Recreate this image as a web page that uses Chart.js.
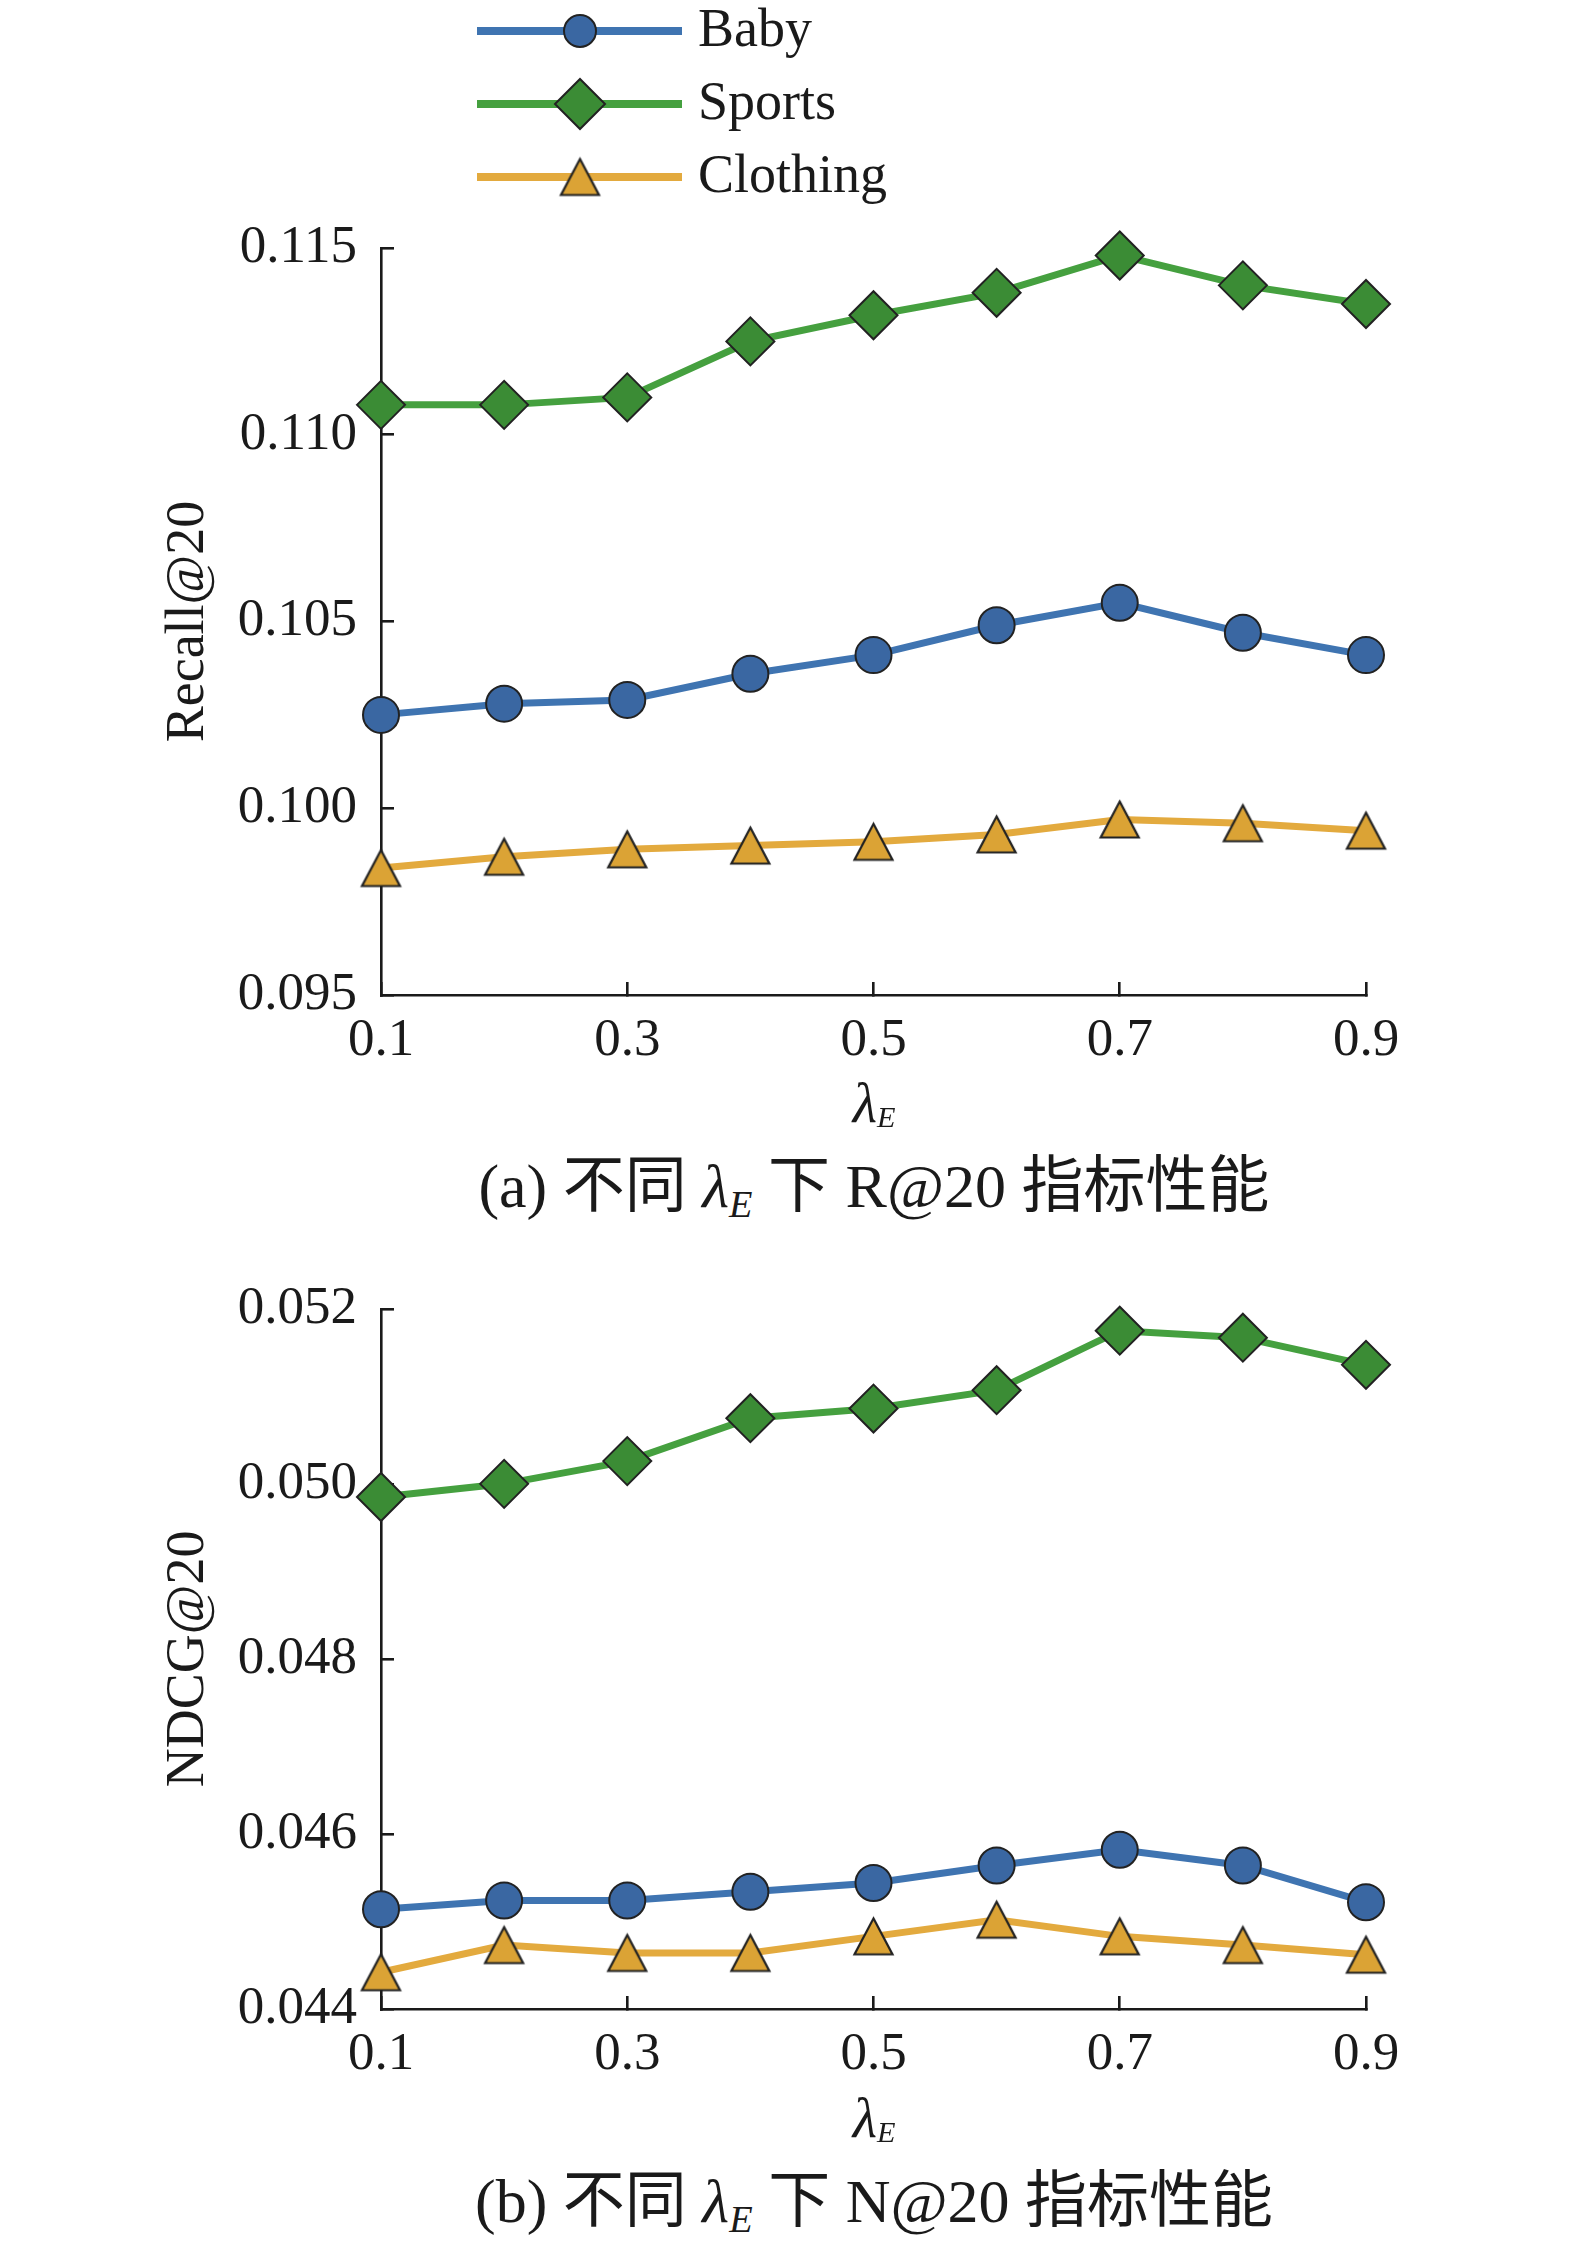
<!DOCTYPE html>
<html>
<head>
<meta charset="utf-8">
<script src="https://cdn.jsdelivr.net/npm/chart.js@4.4.1/dist/chart.umd.min.js"></script>
<style>
html,body{margin:0;padding:0;background:#fff;}
#wrap{position:relative;width:1575px;height:2251px;overflow:hidden;background:#fff;}
canvas{position:absolute;left:0;}
.t{position:absolute;left:0;width:1748px;text-align:center;white-space:nowrap;color:#1a1a1a;
   font-family:"Liberation Serif","Times New Roman","Noto Sans CJK SC",serif;}
.lam{font-style:italic;}
.subA{font-style:italic;font-size:0.54em;position:relative;top:0.18em;line-height:0;}
.subC{font-style:italic;font-size:0.62em;position:relative;top:0.25em;line-height:0;}
</style>
</head>
<body>
<div id="wrap">
  <canvas id="c1" width="1575" height="1080" style="top:0px;width:1575px;height:1080px"></canvas>
  <canvas id="c2" width="1575" height="850" style="top:1240px;width:1575px;height:850px"></canvas>
  <div class="t" style="top:1075px;font-size:56px;line-height:56px"><span class="lam">λ</span><span class="subA">E</span></div>
  <div class="t" style="top:1155px;font-size:62px;line-height:62px">(a) 不同 <span class="lam">λ</span><span class="subC">E</span> 下 R@20 指标性能</div>
  <div class="t" style="top:2090px;font-size:56px;line-height:56px"><span class="lam">λ</span><span class="subA">E</span></div>
  <div class="t" style="top:2170px;font-size:62px;line-height:62px">(b) 不同 <span class="lam">λ</span><span class="subC">E</span> 下 N@20 指标性能</div>
</div>
<script>
// ---------------- data ----------------
const seriesNames = ['Baby', 'Sports', 'Clothing'];
const lambdas = [0.1, 0.2, 0.3, 0.4, 0.5, 0.6, 0.7, 0.8, 0.9];
const xTicks = [0.1, 0.3, 0.5, 0.7, 0.9];

const recallBaby     = [0.1025, 0.1028, 0.1029, 0.1036, 0.1041, 0.1049, 0.1055, 0.1047, 0.1041];
const recallSports   = [0.1108, 0.1108, 0.1110, 0.1125, 0.1132, 0.1138, 0.1148, 0.1140, 0.1135];
const recallClothing = [0.0984, 0.0987, 0.0989, 0.0990, 0.0991, 0.0993, 0.0997, 0.0996, 0.0994];
const recallTicks    = [0.095, 0.100, 0.105, 0.110, 0.115];

const ndcgBaby     = [0.04514, 0.04524, 0.04524, 0.04534, 0.04544, 0.04564, 0.04582, 0.04564, 0.04522];
const ndcgSports   = [0.04985, 0.0500, 0.05026, 0.05075, 0.05086, 0.05107, 0.05175, 0.05167, 0.05136];
const ndcgClothing = [0.04442, 0.04473, 0.04464, 0.04464, 0.04483, 0.04502, 0.04483, 0.04473, 0.04462];
const ndcgTicks    = [0.044, 0.046, 0.048, 0.050, 0.052];

// ---------------- styles ----------------
const FONT = '"Liberation Serif","Times New Roman",serif';
const INK = '#1a1a1a';
const lineColors = ['#3f74b1', '#45a03f', '#e3aa3e'];
const fillColors = ['#3a67a2', '#3b8c35', '#dba335'];
const edge = '#222222';

function triImg(w, h, fill) {
  const lw = 2.2;
  const c = document.createElement('canvas');
  const W = Math.ceil(w + lw * 2 + 2), H = Math.ceil(h + lw * 2 + 2);
  c.width = W; c.height = H;
  const g = c.getContext('2d');
  g.beginPath();
  g.moveTo(W / 2, (H - h) / 2);
  g.lineTo(W / 2 + w / 2, (H + h) / 2);
  g.lineTo(W / 2 - w / 2, (H + h) / 2);
  g.closePath();
  g.fillStyle = fill; g.fill();
  g.lineWidth = lw; g.strokeStyle = edge; g.lineJoin = 'miter'; g.stroke();
  return c;
}
const triangle = triImg(38, 36, fillColors[2]);
const pointStyles = ['circle', 'rectRot', triangle];
const pointRadii = [18, 24, 20];
const legendRadii = [16, 25, 20];

function makeDatasets(vals) {
  return vals.map((v, i) => ({
    label: seriesNames[i],
    data: lambdas.map((x, j) => ({x: x, y: v[j]})),
    borderColor: lineColors[i],
    borderWidth: 7,
    pointStyle: pointStyles[i],
    pointRadius: pointRadii[i],
    pointBackgroundColor: fillColors[i],
    pointBorderColor: edge,
    pointBorderWidth: 2,
    tension: 0,
    clip: false,
    order: i
  }));
}

const legendPlugin = {
  id: 'lineLegend',
  afterDraw(chart, args, opts) {
    if (!opts || !opts.show) return;
    const ctx = chart.ctx;
    chart.data.datasets.forEach((ds, i) => {
      const y = 31 + i * 73;
      ctx.save();
      ctx.strokeStyle = ds.borderColor;
      ctx.lineWidth = 8;
      ctx.beginPath(); ctx.moveTo(477, y); ctx.lineTo(682, y); ctx.stroke();
      ctx.fillStyle = ds.pointBackgroundColor;
      ctx.strokeStyle = ds.pointBorderColor;
      ctx.lineWidth = ds.pointBorderWidth;
      Chart.helpers.drawPoint(ctx, {pointStyle: ds.pointStyle, radius: legendRadii[i], rotation: 0, borderWidth: ds.pointBorderWidth}, 580, y);
      ctx.fillStyle = INK;
      ctx.font = '54px ' + FONT;
      ctx.textBaseline = 'middle';
      ctx.textAlign = 'left';
      ctx.fillText(ds.label, 698, y + 1);
      ctx.restore();
    });
  }
};

function makeChart(id, vals, yTicks, yTitle, canvasH, axisBottom, topPad, showLegend) {
  const axisCommon = {
    border: {display: true, color: INK, width: 2.6},
    grid: {display: true, drawOnChartArea: false, drawTicks: true, tickLength: -13, color: INK, lineWidth: 2.6}
  };
  return new Chart(document.getElementById(id), {
    type: 'line',
    data: {datasets: makeDatasets(vals)},
    plugins: [legendPlugin],
    options: {
      responsive: false,
      animation: false,
      devicePixelRatio: 1,
      events: [],
      layout: {padding: {top: topPad, right: 209, bottom: 0, left: 0}},
      plugins: {legend: {display: false}, tooltip: {enabled: false}, title: {display: false}, lineLegend: {show: showLegend}},
      scales: {
        x: Object.assign({}, axisCommon, {
          type: 'linear',
          min: xTicks[0], max: xTicks[xTicks.length - 1],
          afterBuildTicks: s => { s.ticks = xTicks.map(v => ({value: v})); },
          afterFit: s => { s.height = canvasH - axisBottom; },
          ticks: {font: {size: 53, family: FONT}, color: INK, padding: 27, maxRotation: 0, autoSkip: false,
                  callback: v => Number(v).toFixed(1)}
        }),
        y: Object.assign({}, axisCommon, {
          type: 'linear',
          min: yTicks[0], max: yTicks[yTicks.length - 1],
          afterBuildTicks: s => { s.ticks = yTicks.map(v => ({value: v})); },
          afterFit: s => { s.width = 381; },
          ticks: {font: {size: 53, family: FONT}, color: INK, padding: 37, autoSkip: false,
                  callback: v => Number(v).toFixed(3)},
          title: {display: true, text: yTitle, color: INK, font: {size: 54, family: FONT}, padding: {top: 156, bottom: 0}}
        })
      }
    }
  });
}

makeChart('c1', [recallBaby, recallSports, recallClothing], recallTicks, 'Recall@20', 1080, 995, 248, true);
makeChart('c2', [ndcgBaby, ndcgSports, ndcgClothing], ndcgTicks, 'NDCG@20', 850, 769, 68, false);
</script>
</body>
</html>
